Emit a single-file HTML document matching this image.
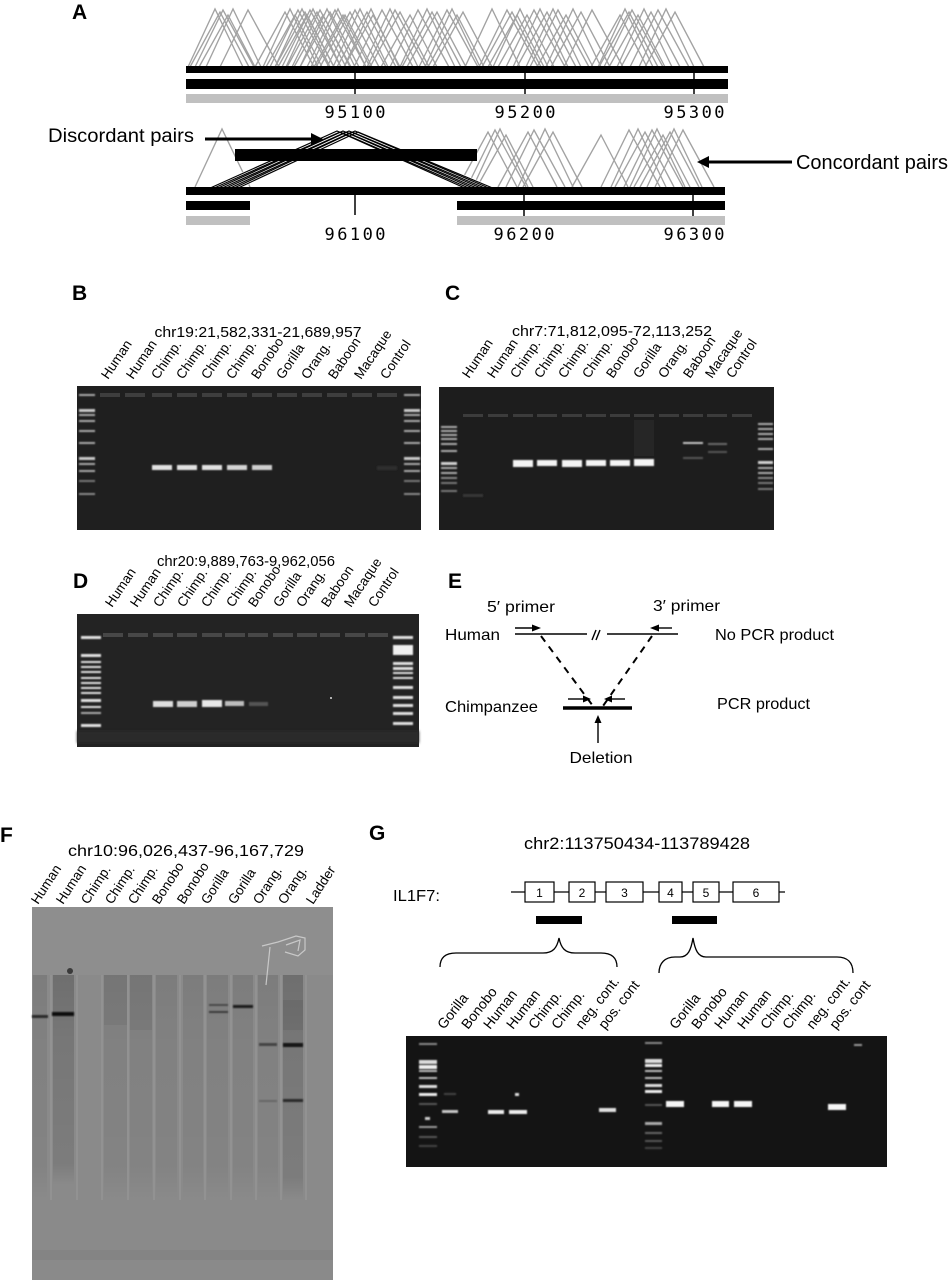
<!DOCTYPE html>
<html><head><meta charset="utf-8"><style>
html,body{margin:0;padding:0;background:#fff;}
svg{display:block;}
text{font-family:"Liberation Sans",Arial,sans-serif;fill:#000;}
.lb{font-size:13.5px;}
.mono{font-family:"DejaVu Sans Mono","Liberation Mono",monospace;font-size:17px;}
.pl{font-weight:bold;font-size:21px;}
</style></head><body>
<svg width="950" height="1280" viewBox="0 0 950 1280" xmlns="http://www.w3.org/2000/svg">
<defs>
<polyline id="ta" points="-27,0 0,-58 28,0"/>
<polyline id="tb" points="-30,0 0,-55 29,0"/>
<polyline id="tc" points="-28,0 0,-57 31,0"/>
<polyline id="td" points="-29,0 0,-52 27,0"/>
<filter id="bl" x="-20%" y="-100%" width="140%" height="300%"><feGaussianBlur stdDeviation="0.7"/></filter>
<filter id="bl2" x="-20%" y="-100%" width="140%" height="300%"><feGaussianBlur stdDeviation="1.2"/></filter>
<linearGradient id="lane" x1="0" y1="0" x2="0" y2="1">
<stop offset="0" stop-color="#000" stop-opacity="0.10"/>
<stop offset="0.25" stop-color="#000" stop-opacity="0.07"/>
<stop offset="0.85" stop-color="#000" stop-opacity="0.05"/>
<stop offset="1" stop-color="#000" stop-opacity="0"/>
</linearGradient>
<linearGradient id="laneD" x1="0" y1="0" x2="0" y2="1">
<stop offset="0" stop-color="#000" stop-opacity="0.20"/>
<stop offset="0.3" stop-color="#000" stop-opacity="0.14"/>
<stop offset="0.9" stop-color="#000" stop-opacity="0.10"/>
<stop offset="1" stop-color="#000" stop-opacity="0"/>
</linearGradient>
</defs>

<!-- ================= PANEL A ================= -->
<text class="pl" x="72" y="19">A</text>
<g fill="none" stroke="#a2a2a2" stroke-width="1.35">
<use href="#ta" x="215" y="67"/><use href="#tb" x="220" y="67"/><use href="#tc" x="223" y="67"/><use href="#td" x="228" y="67"/>
<use href="#ta" x="233" y="67"/><use href="#tc" x="248" y="67"/><use href="#tb" x="285" y="67"/><use href="#ta" x="290" y="67"/>
<use href="#td" x="295" y="67"/><use href="#tc" x="298" y="67"/><use href="#ta" x="302" y="67"/><use href="#tb" x="305" y="67"/>
<use href="#td" x="307" y="67"/><use href="#tc" x="310" y="67"/><use href="#ta" x="313" y="67"/><use href="#tb" x="317" y="67"/>
<use href="#tc" x="320" y="67"/><use href="#td" x="323" y="67"/><use href="#ta" x="327" y="67"/><use href="#tb" x="330" y="67"/>
<use href="#tc" x="335" y="67"/><use href="#ta" x="338" y="67"/><use href="#td" x="343" y="67"/><use href="#tb" x="350" y="67"/>
<use href="#tc" x="355" y="67"/><use href="#ta" x="360" y="67"/><use href="#tb" x="367" y="67"/><use href="#td" x="373" y="67"/>
<use href="#tc" x="382" y="67"/><use href="#ta" x="390" y="67"/><use href="#tb" x="400" y="67"/><use href="#td" x="410" y="67"/>
<use href="#tc" x="418" y="67"/><use href="#ta" x="427" y="67"/><use href="#tb" x="437" y="67"/><use href="#tc" x="447" y="67"/>
<use href="#ta" x="452" y="67"/><use href="#td" x="457" y="67"/><use href="#tb" x="463" y="67"/><use href="#ta" x="492" y="67"/>
<use href="#tc" x="507" y="67"/><use href="#tb" x="512" y="67"/><use href="#ta" x="520" y="67"/><use href="#td" x="527" y="67"/>
<use href="#tc" x="534" y="67"/><use href="#ta" x="540" y="67"/><use href="#tb" x="547" y="67"/><use href="#tc" x="558" y="67"/>
<use href="#td" x="566" y="67"/><use href="#ta" x="573" y="67"/><use href="#tb" x="581" y="67"/><use href="#tc" x="592" y="67"/>
<use href="#ta" x="625" y="67"/><use href="#tb" x="629" y="67"/><use href="#tc" x="632" y="67"/><use href="#td" x="638" y="67"/>
<use href="#ta" x="644" y="67"/><use href="#tb" x="651" y="67"/><use href="#tc" x="658" y="67"/><use href="#ta" x="666" y="67"/>
<use href="#tb" x="675" y="67"/><use href="#td" x="345" y="67"/><use href="#ta" x="371" y="67"/><use href="#tc" x="395" y="67"/>
<use href="#tb" x="432" y="67"/><use href="#td" x="517" y="67"/><use href="#ta" x="553" y="67"/><use href="#td" x="620" y="67"/>
</g>
<rect x="186" y="66" width="542" height="7" fill="#000"/>
<rect x="186" y="79" width="542" height="10" fill="#000"/>
<rect x="186" y="94" width="542" height="9" fill="#c0c0c0"/>
<g stroke="#000" stroke-width="1.5">
<line x1="355" y1="73" x2="355" y2="94"/><line x1="525" y1="73" x2="525" y2="94"/><line x1="694" y1="73" x2="694" y2="94"/>
</g>
<text class="mono" x="355" y="118" text-anchor="middle" textLength="61" lengthAdjust="spacing">95100</text>
<text class="mono" x="525" y="118" text-anchor="middle" textLength="61" lengthAdjust="spacing">95200</text>
<text class="mono" x="694" y="118" text-anchor="middle" textLength="61" lengthAdjust="spacing">95300</text>

<!-- bottom track -->
<g fill="none" stroke="#a2a2a2" stroke-width="1.35">
<use href="#ta" x="222" y="187"/>
<use href="#tb" x="488" y="187"/><use href="#tc" x="495" y="187"/><use href="#ta" x="500" y="187"/><use href="#td" x="506" y="187"/>
<use href="#tb" x="528" y="187"/><use href="#tc" x="534" y="187"/><use href="#ta" x="545" y="187"/><use href="#tb" x="553" y="187"/>
<use href="#td" x="601" y="187"/><use href="#tc" x="629" y="187"/><use href="#ta" x="638" y="187"/><use href="#tb" x="645" y="187"/>
<use href="#tc" x="652" y="187"/><use href="#ta" x="657" y="187"/><use href="#td" x="663" y="187"/><use href="#tb" x="670" y="187"/>
<use href="#ta" x="674" y="187"/><use href="#tc" x="683" y="187"/>
</g>
<g fill="none" stroke="#fff" stroke-width="2.6">
<polyline points="208,189 337,131 467,189"/><polyline points="212,189 340,132 471,189"/><polyline points="216,189 343,131 475,189"/><polyline points="220,189 346,132 479,189"/>
<polyline points="224,189 349,131 483,189"/><polyline points="228,189 352,132 487,189"/><polyline points="232,189 355,131 491,189"/><polyline points="236,189 358,132 495,189"/>
</g>
<g fill="none" stroke="#000" stroke-width="1.2">
<polyline points="208,189 337,131 467,189"/><polyline points="212,189 340,132 471,189"/><polyline points="216,189 343,131 475,189"/><polyline points="220,189 346,132 479,189"/>
<polyline points="224,189 349,131 483,189"/><polyline points="228,189 352,132 487,189"/><polyline points="232,189 355,131 491,189"/><polyline points="236,189 358,132 495,189"/>
</g>
<rect x="235" y="149" width="242" height="12" fill="#000"/>
<rect x="186" y="187" width="539" height="8" fill="#000"/>
<rect x="186" y="201" width="64" height="9" fill="#000"/>
<rect x="457" y="201" width="268" height="9" fill="#000"/>
<rect x="186" y="216" width="64" height="9" fill="#c0c0c0"/>
<rect x="457" y="216" width="268" height="9" fill="#c0c0c0"/>
<g stroke="#000" stroke-width="1.5">
<line x1="355" y1="195" x2="355" y2="215"/><line x1="524" y1="195" x2="524" y2="216"/><line x1="693" y1="195" x2="693" y2="216"/>
</g>
<text class="mono" x="355" y="240" text-anchor="middle" textLength="61" lengthAdjust="spacing">96100</text>
<text class="mono" x="524" y="240" text-anchor="middle" textLength="61" lengthAdjust="spacing">96200</text>
<text class="mono" x="694" y="240" text-anchor="middle" textLength="61" lengthAdjust="spacing">96300</text>
<text x="48" y="142" font-size="19" textLength="146" lengthAdjust="spacingAndGlyphs">Discordant pairs</text>
<line x1="205" y1="139" x2="314" y2="139" stroke="#000" stroke-width="3"/>
<polygon points="311,133 323,139 311,145" fill="#000"/>
<text x="796" y="169" font-size="20" textLength="152" lengthAdjust="spacingAndGlyphs">Concordant pairs</text>
<line x1="792" y1="162" x2="706" y2="162" stroke="#000" stroke-width="3"/>
<polygon points="709,156 697,162 709,168" fill="#000"/>

<!-- ================= PANEL B ================= -->
<text class="pl" x="72" y="300">B</text>
<text x="258" y="337" font-size="15" text-anchor="middle" textLength="207" lengthAdjust="spacingAndGlyphs">chr19:21,582,331-21,689,957</text>
<g class="lb">
<text transform="translate(108,380) rotate(-56)">Human</text>
<text transform="translate(133,380) rotate(-56)">Human</text>
<text transform="translate(158,380) rotate(-56)">Chimp.</text>
<text transform="translate(183,380) rotate(-56)">Chimp.</text>
<text transform="translate(208,380) rotate(-56)">Chimp.</text>
<text transform="translate(233,380) rotate(-56)">Chimp.</text>
<text transform="translate(258,380) rotate(-56)">Bonobo</text>
<text transform="translate(283,380) rotate(-56)">Gorilla</text>
<text transform="translate(308,380) rotate(-56)">Orang.</text>
<text transform="translate(335,380) rotate(-56)">Baboon</text>
<text transform="translate(361,380) rotate(-56)">Macaque</text>
<text transform="translate(387,380) rotate(-56)">Control</text>
</g>
<rect x="77" y="386" width="344" height="144" fill="#1f1f1f"/>
<g fill="#3e3e3e">
<rect x="100" y="393" width="20" height="4"/><rect x="125" y="393" width="20" height="4"/><rect x="152" y="393" width="20" height="4"/><rect x="177" y="393" width="20" height="4"/>
<rect x="202" y="393" width="20" height="4"/><rect x="227" y="393" width="20" height="4"/><rect x="252" y="393" width="20" height="4"/><rect x="277" y="393" width="20" height="4"/>
<rect x="302" y="393" width="20" height="4"/><rect x="327" y="393" width="20" height="4"/><rect x="352" y="393" width="20" height="4"/><rect x="377" y="393" width="20" height="4"/>
</g>
<g fill="#a8a8a8" filter="url(#bl)">
<rect x="79" y="394" width="16" height="2"/><rect x="79" y="409" width="16" height="3" fill="#c8c8c8"/><rect x="79" y="414" width="16" height="2"/><rect x="79" y="420" width="16" height="2"/>
<rect x="79" y="430" width="16" height="2"/><rect x="79" y="442" width="16" height="2"/><rect x="79" y="457" width="16" height="3" fill="#c8c8c8"/><rect x="79" y="463" width="16" height="2"/>
<rect x="79" y="470" width="16" height="2"/><rect x="79" y="480" width="16" height="2" fill="#777"/><rect x="79" y="493" width="16" height="2" fill="#888"/>
<rect x="404" y="394" width="16" height="2"/><rect x="404" y="409" width="16" height="3" fill="#c8c8c8"/><rect x="404" y="414" width="16" height="2"/><rect x="404" y="420" width="16" height="2"/>
<rect x="404" y="430" width="16" height="2"/><rect x="404" y="442" width="16" height="2"/><rect x="404" y="457" width="16" height="3" fill="#c8c8c8"/><rect x="404" y="463" width="16" height="2"/>
<rect x="404" y="470" width="16" height="2"/><rect x="404" y="480" width="16" height="2" fill="#777"/><rect x="404" y="493" width="16" height="2" fill="#888"/>
</g>
<g fill="#e2e2e2" filter="url(#bl)">
<rect x="152" y="465" width="20" height="5"/><rect x="177" y="465" width="20" height="5"/><rect x="202" y="465" width="20" height="5"/><rect x="227" y="465" width="20" height="5" fill="#d4d4d4"/><rect x="252" y="465" width="20" height="5" fill="#cfcfcf"/>
</g>
<rect x="377" y="466" width="20" height="4" fill="#2e2e2e" filter="url(#bl)"/>

<!-- ================= PANEL C ================= -->
<text class="pl" x="445" y="300">C</text>
<text x="612" y="336" font-size="15" text-anchor="middle" textLength="200" lengthAdjust="spacingAndGlyphs">chr7:71,812,095-72,113,252</text>
<g class="lb">
<text transform="translate(469,379) rotate(-56)">Human</text>
<text transform="translate(494,379) rotate(-56)">Human</text>
<text transform="translate(517,379) rotate(-56)">Chimp.</text>
<text transform="translate(541,379) rotate(-56)">Chimp.</text>
<text transform="translate(565,379) rotate(-56)">Chimp.</text>
<text transform="translate(589,379) rotate(-56)">Chimp.</text>
<text transform="translate(613,379) rotate(-56)">Bonobo</text>
<text transform="translate(640,379) rotate(-56)">Gorilla</text>
<text transform="translate(665,379) rotate(-56)">Orang.</text>
<text transform="translate(690,379) rotate(-56)">Baboon</text>
<text transform="translate(712,379) rotate(-56)">Macaque</text>
<text transform="translate(733,379) rotate(-56)">Control</text>
</g>
<rect x="439" y="387" width="335" height="143" fill="#1d1d1d"/>
<g fill="#3c3c3c">
<rect x="463" y="414" width="20" height="3"/><rect x="488" y="414" width="20" height="3"/><rect x="513" y="414" width="20" height="3"/><rect x="537" y="414" width="20" height="3"/>
<rect x="562" y="414" width="20" height="3"/><rect x="586" y="414" width="20" height="3"/><rect x="610" y="414" width="20" height="3"/><rect x="634" y="414" width="20" height="3"/>
<rect x="659" y="414" width="20" height="3"/><rect x="683" y="414" width="20" height="3"/><rect x="707" y="414" width="20" height="3"/><rect x="732" y="414" width="20" height="3"/>
</g>
<rect x="634" y="420" width="20" height="36" fill="#262626"/>
<g fill="#aaa" filter="url(#bl)">
<rect x="441" y="426" width="16" height="2"/><rect x="441" y="430" width="16" height="2"/><rect x="441" y="434" width="16" height="2"/><rect x="441" y="438" width="16" height="2"/>
<rect x="441" y="443" width="16" height="2"/><rect x="441" y="450" width="16" height="2"/><rect x="441" y="462" width="16" height="3" fill="#d0d0d0"/><rect x="441" y="467" width="16" height="2"/>
<rect x="441" y="472" width="16" height="2"/><rect x="441" y="477" width="16" height="2" fill="#888"/><rect x="441" y="482" width="16" height="2" fill="#777"/><rect x="441" y="490" width="16" height="2" fill="#777"/>
<rect x="758" y="423" width="15" height="2"/><rect x="758" y="428" width="15" height="2"/><rect x="758" y="433" width="15" height="2"/><rect x="758" y="438" width="15" height="2"/>
<rect x="758" y="448" width="15" height="2"/><rect x="758" y="461" width="15" height="3" fill="#d0d0d0"/><rect x="758" y="467" width="15" height="2"/><rect x="758" y="472" width="15" height="2"/>
<rect x="758" y="477" width="15" height="2" fill="#888"/><rect x="758" y="482" width="15" height="2" fill="#777"/><rect x="758" y="488" width="15" height="2" fill="#777"/>
</g>
<g fill="#f4f4f4" filter="url(#bl)">
<rect x="513" y="460" width="20" height="7"/><rect x="537" y="460" width="20" height="6"/><rect x="562" y="460" width="20" height="7"/><rect x="586" y="460" width="20" height="6"/><rect x="610" y="460" width="20" height="6"/><rect x="634" y="459" width="20" height="7"/>
</g>
<rect x="683" y="442" width="20" height="2" fill="#c4c4c4" filter="url(#bl)"/>
<rect x="683" y="457" width="20" height="2" fill="#555" filter="url(#bl)"/>
<rect x="708" y="443" width="19" height="2" fill="#6a6a6a" filter="url(#bl)"/>
<rect x="708" y="451" width="19" height="2" fill="#555" filter="url(#bl)"/>
<rect x="463" y="494" width="20" height="3" fill="#353535" filter="url(#bl)"/>

<!-- ================= PANEL D ================= -->
<text class="pl" x="73" y="588">D</text>
<text x="246" y="566" font-size="14.5" text-anchor="middle" textLength="178" lengthAdjust="spacingAndGlyphs">chr20:9,889,763-9,962,056</text>
<g class="lb">
<text transform="translate(112,608) rotate(-56)">Human</text>
<text transform="translate(137,608) rotate(-56)">Human</text>
<text transform="translate(160,608) rotate(-56)">Chimp.</text>
<text transform="translate(184,608) rotate(-56)">Chimp.</text>
<text transform="translate(208,608) rotate(-56)">Chimp.</text>
<text transform="translate(233,608) rotate(-56)">Chimp.</text>
<text transform="translate(255,608) rotate(-56)">Bonobo</text>
<text transform="translate(280,608) rotate(-56)">Gorilla</text>
<text transform="translate(303,608) rotate(-56)">Orang.</text>
<text transform="translate(328,608) rotate(-56)">Baboon</text>
<text transform="translate(351,608) rotate(-56)">Macaque</text>
<text transform="translate(375,608) rotate(-56)">Control</text>
</g>
<rect x="77" y="614" width="342" height="133" fill="#232323"/>
<rect x="77" y="731" width="342" height="12" fill="#2c2c2c" filter="url(#bl2)"/>
<g fill="#474747">
<rect x="103" y="633" width="20" height="4"/><rect x="128" y="633" width="20" height="4"/><rect x="153" y="633" width="20" height="4"/><rect x="177" y="633" width="20" height="4"/>
<rect x="202" y="633" width="20" height="4"/><rect x="225" y="633" width="20" height="4"/><rect x="248" y="633" width="20" height="4"/><rect x="273" y="633" width="20" height="4"/>
<rect x="297" y="633" width="20" height="4"/><rect x="320" y="633" width="20" height="4"/><rect x="345" y="633" width="20" height="4"/><rect x="368" y="633" width="20" height="4"/>
</g>
<g fill="#e0e0e0" filter="url(#bl)">
<rect x="81" y="636" width="20" height="3"/><rect x="81" y="654" width="20" height="3"/><rect x="81" y="661" width="20" height="2"/><rect x="81" y="666" width="20" height="2"/>
<rect x="81" y="671" width="20" height="2"/><rect x="81" y="677" width="20" height="2"/><rect x="81" y="682" width="20" height="2"/><rect x="81" y="687" width="20" height="2"/>
<rect x="81" y="692" width="20" height="2"/><rect x="81" y="699" width="20" height="3"/><rect x="81" y="706" width="20" height="2"/><rect x="81" y="712" width="20" height="2" fill="#aaa"/><rect x="81" y="724" width="20" height="3"/>
<rect x="393" y="636" width="20" height="3"/><rect x="393" y="645" width="20" height="10" fill="#f0f0f0"/><rect x="393" y="662" width="20" height="3"/><rect x="393" y="667" width="20" height="3"/>
<rect x="393" y="672" width="20" height="2"/><rect x="393" y="677" width="20" height="2"/><rect x="393" y="686" width="20" height="3"/><rect x="393" y="696" width="20" height="3"/>
<rect x="393" y="704" width="20" height="3"/><rect x="393" y="712" width="20" height="3"/><rect x="393" y="722" width="20" height="3"/>
</g>
<g fill="#dedede" filter="url(#bl)">
<rect x="153" y="701" width="20" height="6"/><rect x="177" y="701" width="20" height="6" fill="#cfcfcf"/><rect x="202" y="700" width="20" height="7" fill="#e8e8e8"/><rect x="225" y="701" width="19" height="5" fill="#bdbdbd"/><rect x="249" y="702" width="19" height="4" fill="#555"/>
</g>
<circle cx="331" cy="698" r="1" fill="#ddd"/>

<!-- ================= PANEL E ================= -->
<text class="pl" x="448" y="588">E</text>
<text x="487" y="612" font-size="16" textLength="68" lengthAdjust="spacingAndGlyphs">5′ primer</text>
<text x="653" y="611" font-size="16" textLength="67" lengthAdjust="spacingAndGlyphs">3′ primer</text>
<text x="445" y="640" font-size="16" textLength="55" lengthAdjust="spacingAndGlyphs">Human</text>
<text x="715" y="640" font-size="16" textLength="119" lengthAdjust="spacingAndGlyphs">No PCR product</text>
<text x="445" y="712" font-size="16" textLength="93" lengthAdjust="spacingAndGlyphs">Chimpanzee</text>
<text x="717" y="709" font-size="16" textLength="93" lengthAdjust="spacingAndGlyphs">PCR product</text>
<text x="601" y="763" font-size="16" text-anchor="middle" textLength="63" lengthAdjust="spacingAndGlyphs">Deletion</text>
<g stroke="#000" stroke-width="1.4" fill="none">
<line x1="515" y1="634" x2="587" y2="634"/><line x1="607" y1="634" x2="678" y2="634"/>
<line x1="592" y1="640" x2="596" y2="630"/><line x1="596" y1="640" x2="600" y2="630"/>
<line x1="515" y1="628" x2="534" y2="628"/><line x1="672" y1="628" x2="657" y2="628"/>
<line x1="568" y1="699" x2="584" y2="699"/><line x1="625" y1="699" x2="611" y2="699"/>
<line x1="598" y1="743" x2="598" y2="721"/>
</g>
<g fill="#000">
<polygon points="532,624.5 541,628 532,631.5"/><polygon points="659,624.5 650,628 659,631.5"/>
<polygon points="583,695.5 591,699 583,702.5"/><polygon points="612,695.5 604,699 612,702.5"/>
<polygon points="594.5,723 598,715 601.5,723"/>
</g>
<g stroke="#000" stroke-width="2" stroke-dasharray="7,6" fill="none">
<line x1="541" y1="636" x2="593" y2="706"/><line x1="652" y1="636" x2="603" y2="706"/>
</g>
<line x1="563" y1="708" x2="632" y2="708" stroke="#000" stroke-width="3.5"/>

<!-- ================= PANEL F ================= -->
<text class="pl" x="0" y="842">F</text>
<text x="186" y="856" font-size="16" text-anchor="middle" textLength="236" lengthAdjust="spacingAndGlyphs">chr10:96,026,437-96,167,729</text>
<g class="lb">
<text transform="translate(38,905) rotate(-57)">Human</text>
<text transform="translate(63,905) rotate(-57)">Human</text>
<text transform="translate(88,905) rotate(-57)">Chimp.</text>
<text transform="translate(112,905) rotate(-57)">Chimp.</text>
<text transform="translate(135,905) rotate(-57)">Chimp.</text>
<text transform="translate(159,905) rotate(-57)">Bonobo</text>
<text transform="translate(184,905) rotate(-57)">Bonobo</text>
<text transform="translate(208,905) rotate(-57)">Gorilla</text>
<text transform="translate(235,905) rotate(-57)">Gorilla</text>
<text transform="translate(260,905) rotate(-57)">Orang.</text>
<text transform="translate(285,905) rotate(-57)">Orang.</text>
<text transform="translate(313,905) rotate(-57)">Ladder</text>
</g>
<rect x="32" y="907" width="301" height="373" fill="#8a8a8a"/>
<rect x="32" y="907" width="301" height="68" fill="#8e8e8e"/>
<g>
<rect x="33" y="975" width="14" height="225" fill="url(#lane)"/>
<rect x="53" y="975" width="21" height="210" fill="url(#laneD)"/>
<rect x="104" y="975" width="23" height="225" fill="url(#lane)"/>
<rect x="104" y="975" width="23" height="50" fill="#000" opacity="0.05"/>
<rect x="130" y="975" width="22" height="225" fill="url(#lane)"/>
<rect x="130" y="975" width="22" height="55" fill="#000" opacity="0.05"/>
<rect x="156" y="975" width="21" height="225" fill="url(#lane)"/>
<rect x="183" y="975" width="20" height="225" fill="url(#lane)"/>
<rect x="207" y="975" width="21" height="225" fill="url(#lane)"/>
<rect x="233" y="975" width="20" height="225" fill="url(#lane)"/>
<rect x="258" y="975" width="20" height="225" fill="url(#lane)"/>
<rect x="283" y="975" width="20" height="225" fill="url(#laneD)"/>
<rect x="283" y="1000" width="20" height="30" fill="#000" opacity="0.06"/>
<rect x="32" y="1250" width="301" height="10" fill="#000" opacity="0.04"/>
</g>
<g fill="#959595" opacity="0.8">
<rect x="50" y="975" width="2" height="225"/><rect x="76" y="975" width="2" height="225"/><rect x="101" y="975" width="2" height="225"/><rect x="127" y="975" width="2" height="225"/>
<rect x="153" y="975" width="2" height="225"/><rect x="179" y="975" width="2" height="225"/><rect x="204" y="975" width="2" height="225"/><rect x="230" y="975" width="2" height="225"/>
<rect x="255" y="975" width="2" height="225"/><rect x="280" y="975" width="2" height="225"/><rect x="305" y="975" width="2" height="225"/>
</g>
<g fill="none" stroke="#cfcfcf" stroke-width="1.2" opacity="0.9">
<polyline points="262,946 278,942 296,936 305,938 305,950 298,956 285,952"/>
<polyline points="286,945 300,940 298,951"/>
<polyline points="270,947 266,985"/>
</g>
<circle cx="70" cy="971" r="3" fill="#3a3a3a"/>
<g filter="url(#bl)">
<rect x="32" y="1015" width="16" height="3" fill="#2a2a2a"/>
<rect x="52" y="1012" width="22" height="4" fill="#111"/>
<rect x="209" y="1004" width="19" height="2" fill="#4a4a4a"/>
<rect x="209" y="1011" width="19" height="2" fill="#3a3a3a"/>
<rect x="233" y="1005" width="20" height="3" fill="#1a1a1a"/>
<rect x="259" y="1043" width="18" height="3" fill="#444"/>
<rect x="259" y="1100" width="18" height="2" fill="#666"/>
<rect x="283" y="1043" width="20" height="4" fill="#161616"/>
<rect x="283" y="1099" width="20" height="3" fill="#2a2a2a"/>
</g>

<!-- ================= PANEL G ================= -->
<text class="pl" x="369" y="840">G</text>
<text x="637" y="849" font-size="17" text-anchor="middle" textLength="226" lengthAdjust="spacingAndGlyphs">chr2:113750434-113789428</text>
<text x="393" y="901" font-size="16" textLength="47" lengthAdjust="spacingAndGlyphs">IL1F7:</text>
<line x1="511" y1="892" x2="785" y2="892" stroke="#000" stroke-width="1.2"/>
<g fill="#fff" stroke="#000" stroke-width="1.2">
<rect x="525" y="882" width="29" height="20"/><rect x="569" y="882" width="26" height="20"/><rect x="606" y="882" width="37" height="20"/>
<rect x="659" y="882" width="23" height="20"/><rect x="693" y="882" width="26" height="20"/><rect x="733" y="882" width="46" height="20"/>
</g>
<g font-size="12" text-anchor="middle">
<text x="539.5" y="897">1</text><text x="582" y="897">2</text><text x="624.5" y="897">3</text><text x="670.5" y="897">4</text><text x="706" y="897">5</text><text x="756" y="897">6</text>
</g>
<rect x="536" y="916" width="46" height="8" fill="#000"/>
<rect x="672" y="916" width="45" height="8" fill="#000"/>
<g fill="none" stroke="#000" stroke-width="1.3">
<path d="M440,967 C440,957 446,953 456,953 L543,953 C553,953 557,948 559,938 C561,948 565,953 575,953 L601,953 C611,953 617,957 617,967"/>
<path d="M659,973 C659,963 665,957 675,957 L680,957 C688,957 691,950 693,938 C695,950 698,957 706,957 L837,957 C847,957 853,962 853,973"/>
</g>
<g font-size="14">
<text transform="translate(444,1030) rotate(-52)">Gorilla</text>
<text transform="translate(468,1030) rotate(-52)">Bonobo</text>
<text transform="translate(490,1030) rotate(-52)">Human</text>
<text transform="translate(513,1030) rotate(-52)">Human</text>
<text transform="translate(535,1030) rotate(-52)">Chimp.</text>
<text transform="translate(558,1030) rotate(-52)">Chimp.</text>
<text transform="translate(582,1030) rotate(-52)">neg. cont.</text>
<text transform="translate(605,1030) rotate(-52)">pos. cont</text>
<text transform="translate(676,1030) rotate(-52)">Gorilla</text>
<text transform="translate(698,1030) rotate(-52)">Bonobo</text>
<text transform="translate(721,1030) rotate(-52)">Human</text>
<text transform="translate(744,1030) rotate(-52)">Human</text>
<text transform="translate(767,1030) rotate(-52)">Chimp.</text>
<text transform="translate(789,1030) rotate(-52)">Chimp.</text>
<text transform="translate(813,1030) rotate(-52)">neg. cont.</text>
<text transform="translate(836,1030) rotate(-52)">pos. cont</text>
</g>
<rect x="406" y="1036" width="481" height="131" fill="#141414"/>
<g filter="url(#bl)">
<rect x="419" y="1043" width="18" height="2" fill="#888"/><rect x="419" y="1060" width="18" height="4" fill="#ddd"/><rect x="419" y="1065" width="18" height="4" fill="#eee"/><rect x="419" y="1070" width="18" height="2" fill="#bbb"/>
<rect x="419" y="1077" width="18" height="2" fill="#bbb"/><rect x="419" y="1085" width="18" height="3" fill="#ddd"/><rect x="419" y="1093" width="18" height="3" fill="#eee"/><rect x="419" y="1103" width="18" height="2" fill="#555"/>
<rect x="425" y="1117" width="5" height="3" fill="#ccc"/><rect x="419" y="1126" width="18" height="2" fill="#999"/><rect x="419" y="1136" width="18" height="2" fill="#555"/><rect x="419" y="1145" width="18" height="2" fill="#444"/>
<rect x="645" y="1042" width="17" height="2" fill="#888"/><rect x="645" y="1059" width="17" height="4" fill="#ddd"/><rect x="645" y="1064" width="17" height="3" fill="#eee"/><rect x="645" y="1070" width="17" height="2" fill="#bbb"/>
<rect x="645" y="1077" width="17" height="2" fill="#bbb"/><rect x="645" y="1084" width="17" height="3" fill="#ddd"/><rect x="645" y="1090" width="17" height="3" fill="#eee"/><rect x="645" y="1104" width="17" height="2" fill="#555"/>
<rect x="645" y="1122" width="17" height="3" fill="#aaa"/><rect x="645" y="1132" width="17" height="2" fill="#666"/><rect x="645" y="1140" width="17" height="2" fill="#555"/><rect x="645" y="1147" width="17" height="2" fill="#444"/>
</g>
<g filter="url(#bl)">
<rect x="442" y="1110" width="16" height="3" fill="#c8c8c8"/><rect x="444" y="1093" width="12" height="2" fill="#444"/>
<rect x="488" y="1110" width="16" height="4" fill="#eeeeee"/><rect x="509" y="1110" width="18" height="4" fill="#eeeeee"/><rect x="515" y="1093" width="4" height="3" fill="#ddd"/>
<rect x="599" y="1108" width="17" height="4" fill="#e0e0e0"/>
<rect x="666" y="1101" width="18" height="6" fill="#f6f6f6"/><rect x="712" y="1101" width="17" height="6" fill="#f6f6f6"/><rect x="734" y="1101" width="18" height="6" fill="#f6f6f6"/>
<rect x="828" y="1104" width="18" height="6" fill="#f6f6f6"/>
<rect x="854" y="1044" width="8" height="2" fill="#999"/>
</g>
</svg>
</body></html>
